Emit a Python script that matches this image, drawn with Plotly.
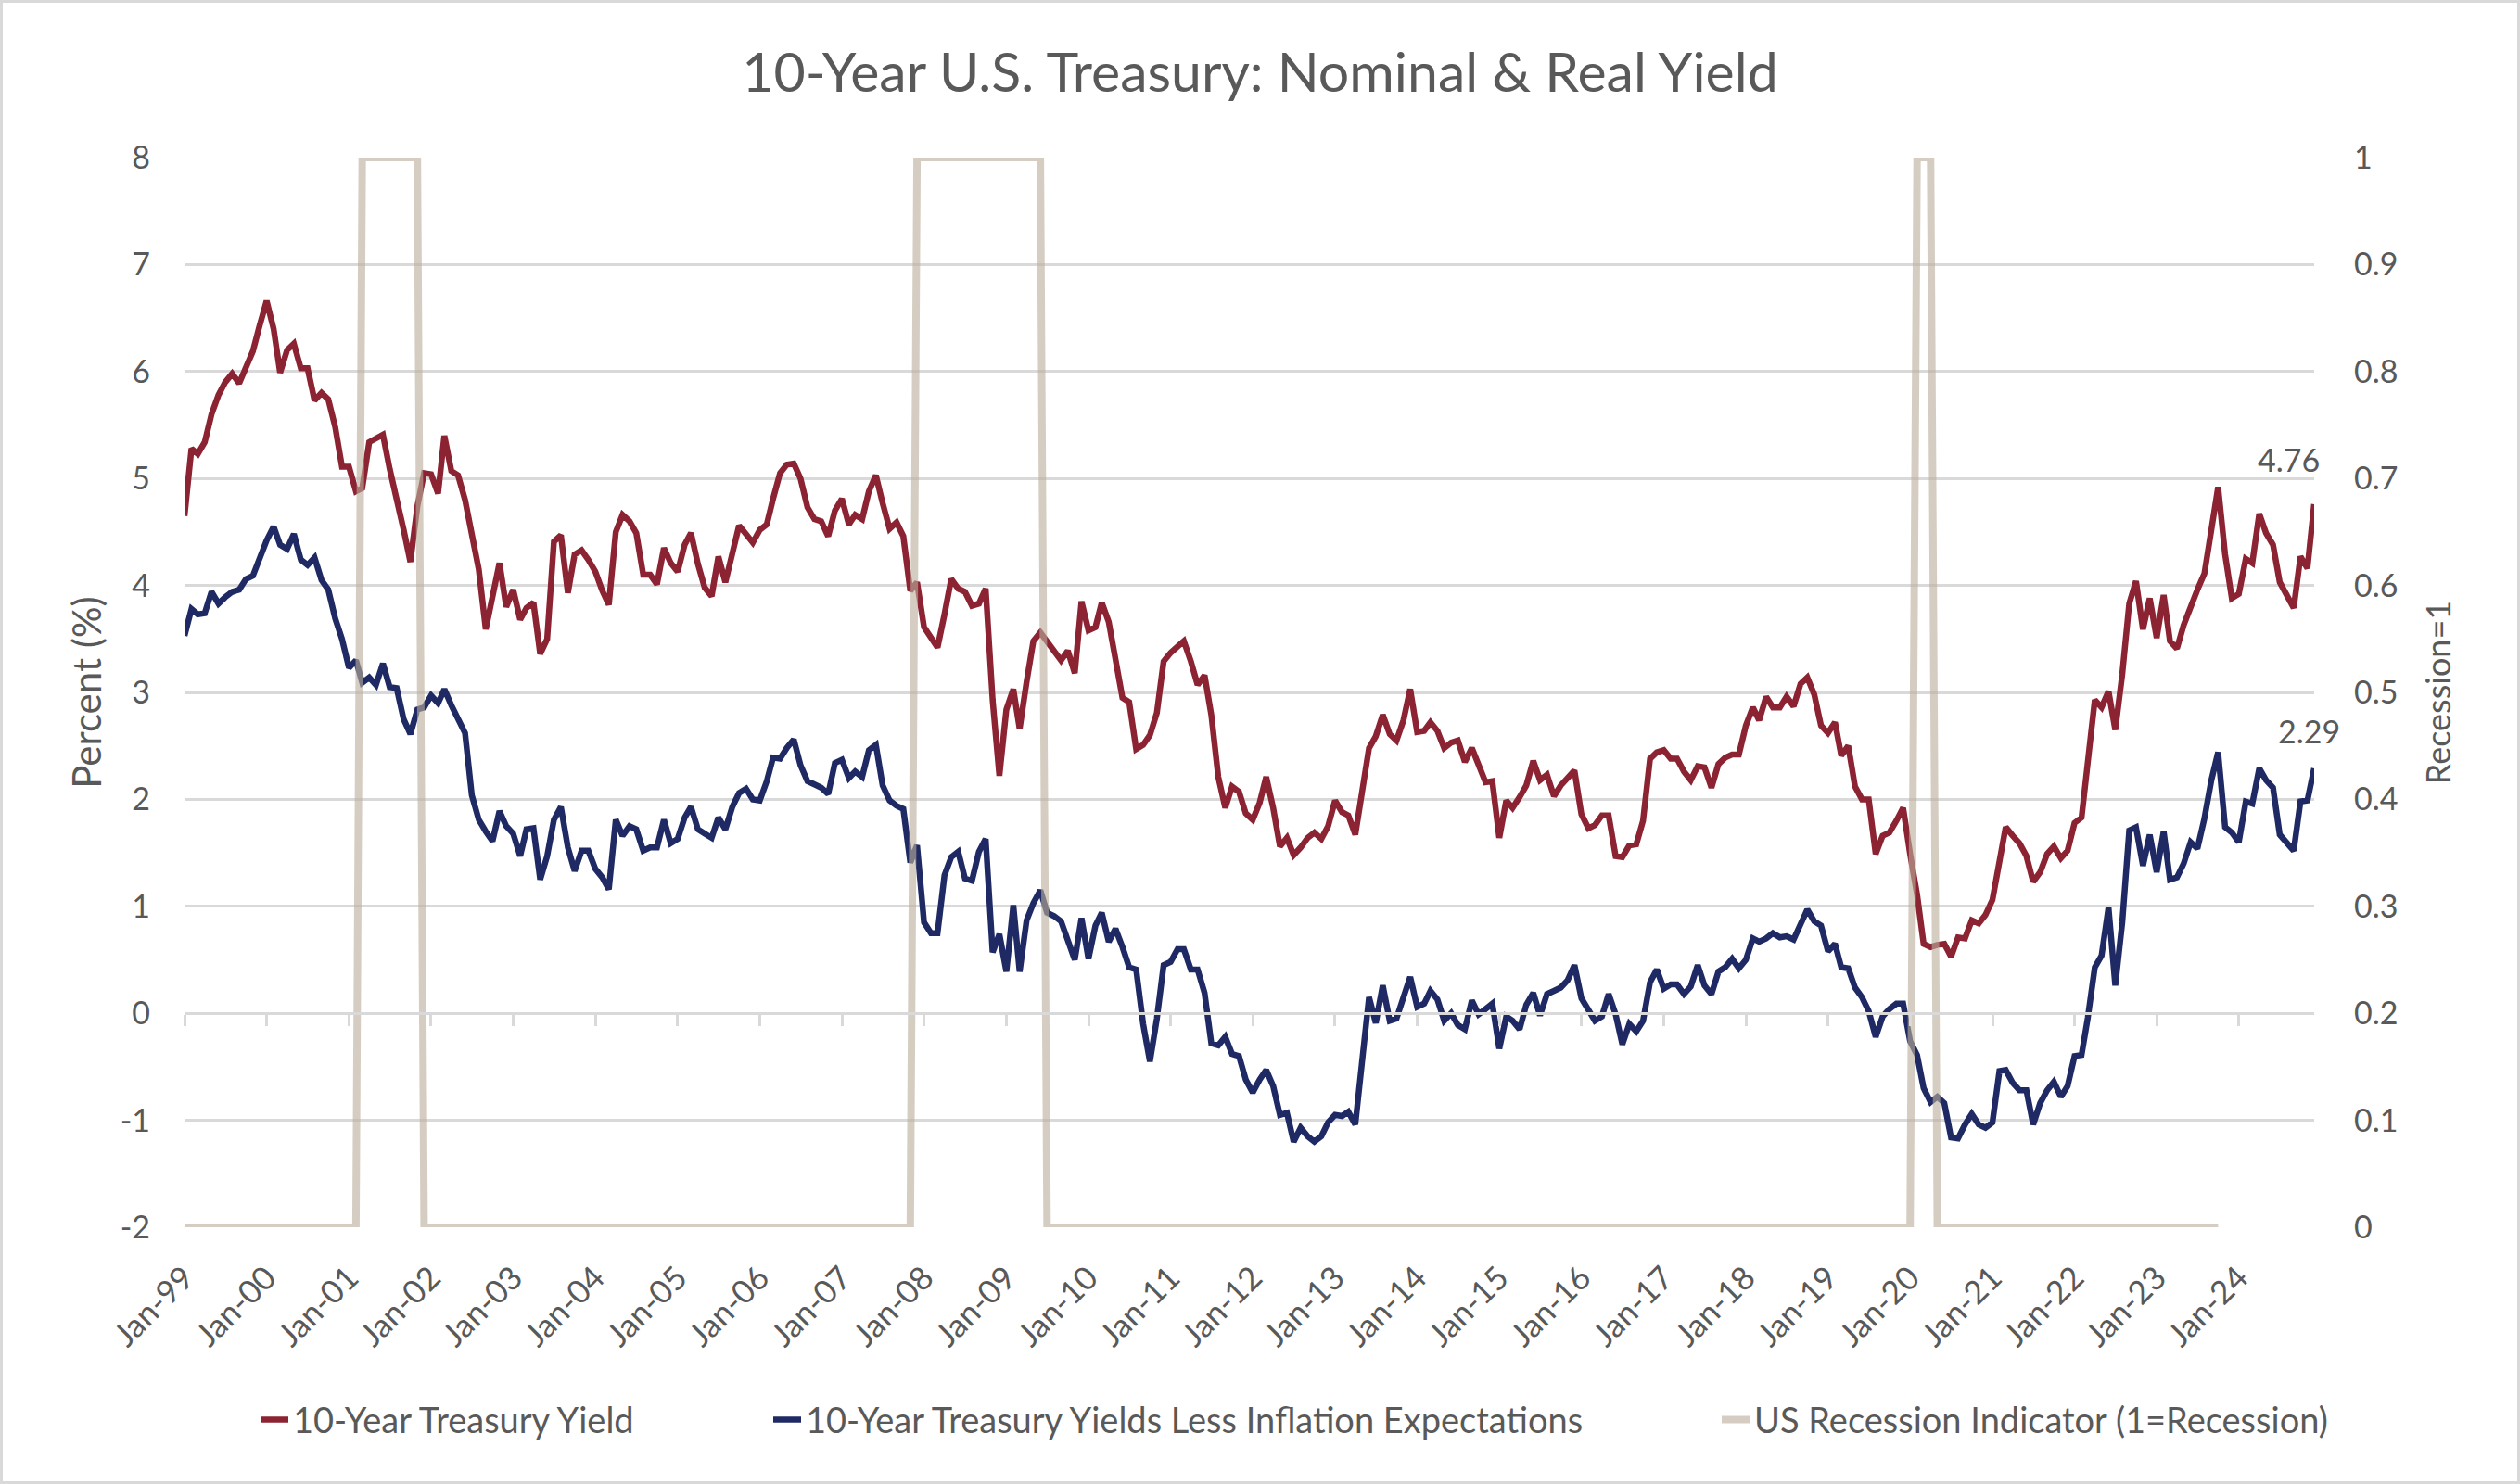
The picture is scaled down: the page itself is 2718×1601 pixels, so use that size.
import pandas as pd
import plotly.graph_objects as go

# ---------------- data (monthly, Jan-1999 .. Dec-2024) ----------------
nominal_yield = [
    4.65, 5.28, 5.23, 5.34, 5.60, 5.78, 5.90, 5.98, 5.89, 6.03, 6.19, 6.43,   # 1999
    6.66, 6.40, 5.99, 6.20, 6.26, 6.03, 6.03, 5.73, 5.80, 5.74, 5.48, 5.11,   # 2000
    5.11, 4.88, 4.91, 5.34, 5.37, 5.41, 5.09, 4.82, 4.52, 4.22, 4.74, 5.05,   # 2001
    5.04, 4.86, 5.40, 5.07, 5.03, 4.80, 4.49, 4.15, 3.59, 3.90, 4.21, 3.80,   # 2002
    3.96, 3.68, 3.79, 3.84, 3.36, 3.50, 4.41, 4.47, 3.93, 4.29, 4.33, 4.24,   # 2003
    4.13, 3.95, 3.82, 4.50, 4.66, 4.60, 4.49, 4.10, 4.10, 4.01, 4.35, 4.21,   # 2004
    4.13, 4.38, 4.49, 4.20, 3.98, 3.90, 4.27, 4.03, 4.33, 4.56, 4.48, 4.40,   # 2005
    4.52, 4.57, 4.81, 5.05, 5.13, 5.14, 5.00, 4.73, 4.62, 4.60, 4.46, 4.70,   # 2006
    4.81, 4.57, 4.66, 4.62, 4.88, 5.03, 4.77, 4.53, 4.59, 4.46, 3.95, 4.03,   # 2007
    3.61, 3.52, 3.42, 3.73, 4.06, 3.97, 3.94, 3.81, 3.83, 3.97, 2.93, 2.22,   # 2008
    2.84, 3.03, 2.66, 3.10, 3.48, 3.56, 3.48, 3.39, 3.30, 3.39, 3.18, 3.85,   # 2009
    3.58, 3.61, 3.84, 3.66, 3.30, 2.95, 2.91, 2.47, 2.51, 2.60, 2.81, 3.29,   # 2010
    3.37, 3.43, 3.48, 3.29, 3.07, 3.16, 2.79, 2.21, 1.92, 2.12, 2.07, 1.87,   # 2011
    1.81, 1.97, 2.21, 1.92, 1.56, 1.64, 1.48, 1.55, 1.64, 1.69, 1.63, 1.75,   # 2012
    1.99, 1.88, 1.85, 1.67, 2.08, 2.48, 2.59, 2.79, 2.61, 2.55, 2.74, 3.03,   # 2013
    2.63, 2.64, 2.72, 2.64, 2.48, 2.53, 2.55, 2.35, 2.48, 2.32, 2.16, 2.17,   # 2014
    1.64, 1.99, 1.92, 2.02, 2.13, 2.36, 2.18, 2.23, 2.03, 2.13, 2.21, 2.27,   # 2015
    1.86, 1.73, 1.76, 1.85, 1.85, 1.47, 1.46, 1.57, 1.58, 1.80, 2.38, 2.44,   # 2016
    2.46, 2.38, 2.38, 2.26, 2.18, 2.31, 2.30, 2.11, 2.33, 2.39, 2.42, 2.42,   # 2017
    2.69, 2.86, 2.74, 2.96, 2.86, 2.86, 2.96, 2.87, 3.08, 3.14, 2.98, 2.69,   # 2018
    2.62, 2.72, 2.41, 2.50, 2.12, 2.00, 2.00, 1.49, 1.66, 1.69, 1.80, 1.92,   # 2019
    1.49, 1.11, 0.65, 0.62, 0.64, 0.65, 0.53, 0.71, 0.70, 0.87, 0.84, 0.92,   # 2020
    1.06, 1.42, 1.74, 1.66, 1.59, 1.47, 1.23, 1.32, 1.49, 1.56, 1.45, 1.52,   # 2021
    1.78, 1.83, 2.31, 2.93, 2.86, 3.01, 2.65, 3.17, 3.83, 4.04, 3.59, 3.88,   # 2022
    3.51, 3.91, 3.48, 3.41, 3.63, 3.81, 3.96, 4.11, 4.56, 4.92, 4.29, 3.88,   # 2023
    3.92, 4.25, 4.21, 4.67, 4.49, 4.38, 4.03, 3.90, 3.79, 4.27, 4.16, 4.76,   # 2024
]

real_yield = [
    3.53, 3.78, 3.73, 3.74, 3.94, 3.83, 3.89, 3.94, 3.96, 4.06, 4.09, 4.26,   # 1999
    4.42, 4.55, 4.38, 4.34, 4.48, 4.24, 4.19, 4.26, 4.05, 3.96, 3.69, 3.50,   # 2000
    3.23, 3.30, 3.09, 3.14, 3.07, 3.27, 3.05, 3.04, 2.75, 2.61, 2.84, 2.86,   # 2001
    2.97, 2.90, 3.03, 2.88, 2.74, 2.62, 2.04, 1.81, 1.70, 1.61, 1.89, 1.75,   # 2002
    1.68, 1.47, 1.72, 1.73, 1.25, 1.47, 1.81, 1.93, 1.55, 1.33, 1.52, 1.52,   # 2003
    1.35, 1.27, 1.16, 1.81, 1.66, 1.75, 1.72, 1.52, 1.55, 1.55, 1.81, 1.59,   # 2004
    1.63, 1.83, 1.93, 1.72, 1.68, 1.64, 1.83, 1.72, 1.93, 2.06, 2.10, 2.00,   # 2005
    1.99, 2.17, 2.39, 2.38, 2.48, 2.56, 2.32, 2.17, 2.14, 2.11, 2.05, 2.34,   # 2006
    2.37, 2.20, 2.26, 2.21, 2.46, 2.51, 2.13, 1.99, 1.94, 1.91, 1.41, 1.57,   # 2007
    0.85, 0.75, 0.75, 1.29, 1.46, 1.51, 1.26, 1.24, 1.51, 1.63, 0.57, 0.74,   # 2008
    0.39, 1.01, 0.39, 0.87, 1.03, 1.15, 0.94, 0.91, 0.86, 0.68, 0.50, 0.89,   # 2009
    0.51, 0.82, 0.94, 0.67, 0.79, 0.62, 0.43, 0.41, -0.10, -0.45, -0.05, 0.45, # 2010
    0.48, 0.60, 0.60, 0.41, 0.41, 0.19, -0.28, -0.30, -0.22, -0.38, -0.40, -0.62,  # 2011
    -0.74, -0.62, -0.53, -0.68, -0.95, -0.93, -1.20, -1.07, -1.15, -1.20, -1.15, -1.02,  # 2012
    -0.95, -0.96, -0.92, -1.04, -0.45, 0.15, -0.09, 0.26, -0.07, -0.05, 0.15, 0.34,  # 2013
    0.06, 0.09, 0.21, 0.13, -0.07, 0.00, -0.11, -0.15, 0.12, -0.01, 0.04, 0.09,  # 2014
    -0.33, -0.03, -0.07, -0.15, 0.08, 0.19, -0.02, 0.18, 0.21, 0.24, 0.31, 0.45,  # 2015
    0.14, 0.04, -0.07, -0.03, 0.18, -0.01, -0.29, -0.10, -0.17, -0.07, 0.29, 0.41,  # 2016
    0.23, 0.27, 0.27, 0.18, 0.25, 0.45, 0.26, 0.18, 0.39, 0.43, 0.51, 0.42,   # 2017
    0.50, 0.70, 0.67, 0.70, 0.75, 0.71, 0.72, 0.69, 0.85, 0.97, 0.86, 0.82,   # 2018
    0.58, 0.65, 0.43, 0.42, 0.24, 0.15, 0.02, -0.22, -0.03, 0.04, 0.09, 0.09,  # 2019
    -0.26, -0.39, -0.70, -0.83, -0.78, -0.84, -1.16, -1.17, -1.04, -0.94, -1.04, -1.07,  # 2020
    -1.02, -0.54, -0.53, -0.65, -0.72, -0.72, -1.04, -0.84, -0.72, -0.64, -0.78, -0.68,  # 2021
    -0.40, -0.39, -0.04, 0.43, 0.54, 0.99, 0.26, 0.85, 1.71, 1.74, 1.38, 1.67,  # 2022
    1.32, 1.70, 1.25, 1.27, 1.40, 1.60, 1.54, 1.82, 2.18, 2.44, 1.74, 1.69,   # 2023
    1.60, 1.98, 1.96, 2.29, 2.18, 2.11, 1.67, 1.60, 1.52, 1.98, 1.99, 2.29,   # 2024
]

recession = [
    0, 0, 0, 0, 0, 0, 0, 0, 0, 0, 0, 0,   # 1999
    0, 0, 0, 0, 0, 0, 0, 0, 0, 0, 0, 0,   # 2000
    0, 0, 1, 1, 1, 1, 1, 1, 1, 1, 1, 0,   # 2001
    0, 0, 0, 0, 0, 0, 0, 0, 0, 0, 0, 0,   # 2002
    0, 0, 0, 0, 0, 0, 0, 0, 0, 0, 0, 0,   # 2003
    0, 0, 0, 0, 0, 0, 0, 0, 0, 0, 0, 0,   # 2004
    0, 0, 0, 0, 0, 0, 0, 0, 0, 0, 0, 0,   # 2005
    0, 0, 0, 0, 0, 0, 0, 0, 0, 0, 0, 0,   # 2006
    0, 0, 0, 0, 0, 0, 0, 0, 0, 0, 0, 1,   # 2007
    1, 1, 1, 1, 1, 1, 1, 1, 1, 1, 1, 1,   # 2008
    1, 1, 1, 1, 1, 1, 0, 0, 0, 0, 0, 0,   # 2009
    0, 0, 0, 0, 0, 0, 0, 0, 0, 0, 0, 0,   # 2010
    0, 0, 0, 0, 0, 0, 0, 0, 0, 0, 0, 0,   # 2011
    0, 0, 0, 0, 0, 0, 0, 0, 0, 0, 0, 0,   # 2012
    0, 0, 0, 0, 0, 0, 0, 0, 0, 0, 0, 0,   # 2013
    0, 0, 0, 0, 0, 0, 0, 0, 0, 0, 0, 0,   # 2014
    0, 0, 0, 0, 0, 0, 0, 0, 0, 0, 0, 0,   # 2015
    0, 0, 0, 0, 0, 0, 0, 0, 0, 0, 0, 0,   # 2016
    0, 0, 0, 0, 0, 0, 0, 0, 0, 0, 0, 0,   # 2017
    0, 0, 0, 0, 0, 0, 0, 0, 0, 0, 0, 0,   # 2018
    0, 0, 0, 0, 0, 0, 0, 0, 0, 0, 0, 0,   # 2019
    0, 1, 1, 1, 0, 0, 0, 0, 0, 0, 0, 0,   # 2020
    0, 0, 0, 0, 0, 0, 0, 0, 0, 0, 0, 0,   # 2021
    0, 0, 0, 0, 0, 0, 0, 0, 0, 0, 0, 0,   # 2022
    0, 0, 0, 0, 0, 0, 0, 0, 0, 0,         # 2023 (Jan-Oct)
]

series_names = [
    "10-Year Treasury Yield",
    "10-Year Treasury Yields Less Inflation Expectations",
    "US Recession Indicator (1=Recession)",
]

left_ticks = [-2, -1, 0, 1, 2, 3, 4, 5, 6, 7, 8]
left_tick_labels = ["-2", "-1", "0", "1", "2", "3", "4", "5", "6", "7", "8"]

dates = pd.date_range("1999-01-01", periods=len(nominal_yield), freq="MS")
rec_dates = dates[: len(recession)]

# ---------------- styling ----------------
FONT = "Lato, 'Open Sans', sans-serif"
TXT = "#595959"
GRID = "#d9d9d9"
RED = "#8b2332"
BLUE = "#1f2a64"
REC = "rgba(187,175,155,0.62)"

W, H = 2718, 1601
ML, MR, MT, MB = 199, 222, 170, 277
PW, PH = W - ML - MR, H - MT - MB

fig = go.Figure()
fig.add_trace(go.Scatter(x=dates, y=nominal_yield, name=series_names[0], mode="lines",
                         line=dict(color=RED, width=6.5), legend="legend"))
fig.add_trace(go.Scatter(x=dates, y=real_yield, name=series_names[1], mode="lines",
                         line=dict(color=BLUE, width=6.5), legend="legend2"))
fig.add_trace(go.Scatter(x=rec_dates, y=recession, name=series_names[2], mode="lines",
                         line=dict(color=REC, width=8), xaxis="x2", yaxis="y2",
                         legend="legend3"))

xrange = [dates[0], dates[-1]]

leg_common = dict(orientation="h", yanchor="middle", y=-0.18, xanchor="left",
                  font=dict(family=FONT, size=38, color=TXT), bgcolor="rgba(0,0,0,0)")

fig.update_layout(
    width=W, height=H,
    margin=dict(l=ML, r=MR, t=MT, b=MB),
    paper_bgcolor="white", plot_bgcolor="white",
    font=dict(family=FONT, color=TXT, size=34),
    title=dict(text="10-Year U.S. Treasury: Nominal & Real Yield",
               x=0.5, xref="container", xanchor="center",
               y=1 - 78 / H, yref="container", yanchor="middle",
               font=dict(family=FONT, size=59, color=TXT)),
    xaxis=dict(type="date", range=xrange, tickformat="%b-%y", dtick="M12",
               tick0="1999-01-01", tickangle=-45, showgrid=False, showline=False,
               ticks="", zeroline=False, ticklabelstandoff=26,
               tickfont=dict(family=FONT, size=35, color=TXT)),
    xaxis2=dict(type="date", range=xrange, overlaying="x", anchor="free",
                position=0.2, showline=True, linecolor=GRID, linewidth=2.5,
                ticks="outside", ticklen=12, tickwidth=2.5, tickcolor=GRID,
                dtick="M12", tick0="1999-01-01", showticklabels=False,
                showgrid=False, zeroline=False),
    yaxis=dict(range=[-2, 8], tickvals=left_ticks, ticktext=left_tick_labels,
               showgrid=True, gridcolor=GRID, gridwidth=2.5,
               zeroline=False, showline=False, ticks="", ticklabelstandoff=36,
               tickfont=dict(family=FONT, size=34, color=TXT),
               title=dict(text="Percent (%)", standoff=6,
                          font=dict(family=FONT, size=42, color=TXT))),
    yaxis2=dict(range=[0, 1], dtick=0.1, overlaying="y", side="right",
                anchor="free", position=1, showgrid=False, zeroline=False,
                showline=False, ticks="", ticklabelstandoff=42,
                tickfont=dict(family=FONT, size=34, color=TXT),
                title=dict(text="Recession=1", standoff=32,
                           font=dict(family=FONT, size=36, color=TXT))),
    legend=dict(x=(317 - 41 - ML) / PW, **leg_common),
    legend2=dict(x=(870 - 41 - ML) / PW, **leg_common),
    legend3=dict(x=(1893 - 41 - ML) / PW, **leg_common),
    showlegend=True,
)

# data labels for the last values
fig.add_annotation(x=dates[-1], y=nominal_yield[-1], text=f"{nominal_yield[-1]:.2f}",
                   showarrow=False, xanchor="center", yanchor="bottom",
                   xshift=-28, yshift=26, font=dict(family=FONT, size=34, color=TXT))
fig.add_annotation(x=dates[-1], y=real_yield[-1], text=f"{real_yield[-1]:.2f}",
                   showarrow=False, xanchor="center", yanchor="bottom",
                   xshift=-6, yshift=18, font=dict(family=FONT, size=34, color=TXT))

# chart-area border
fig.add_shape(type="rect", xref="paper", yref="paper",
              x0=(-ML + 1.5) / PW, x1=1 + (MR - 1.5) / PW,
              y0=(-MB + 1.5) / PH, y1=1 + (MT - 1.5) / PH,
              line=dict(color=GRID, width=3), fillcolor="rgba(0,0,0,0)", layer="below")

fig.write_html("out.html", config={"displayModeBar": False},
               post_script="document.body.style.margin='0';")
